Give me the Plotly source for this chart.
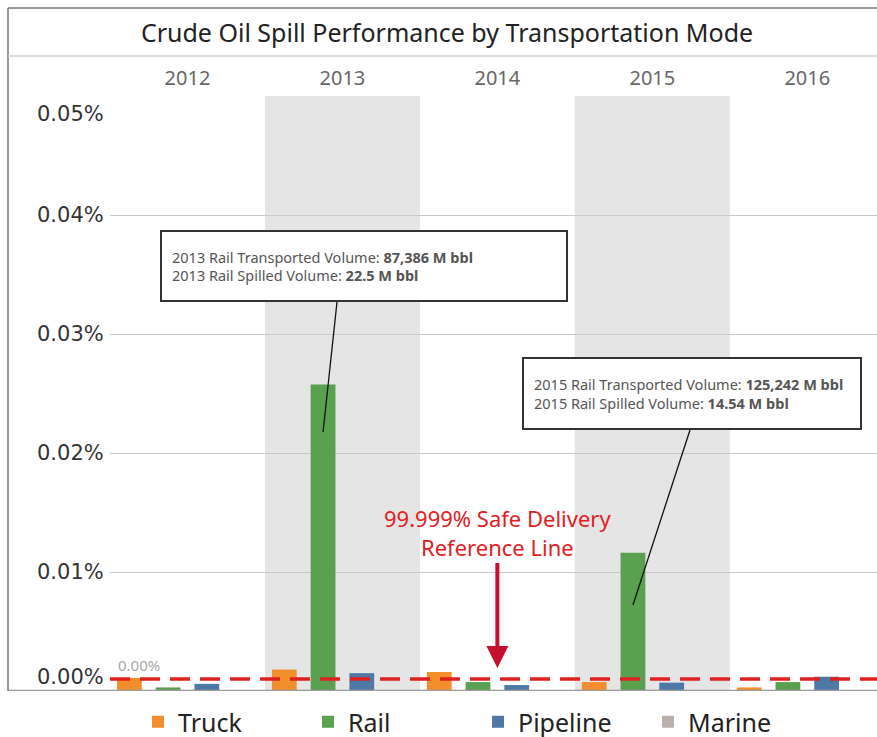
import plotly.graph_objects as go

# ---------------- data ----------------
years = ["2012", "2013", "2014", "2015", "2016"]
modes = ["Truck", "Rail", "Pipeline", "Marine"]
truck = [0.0011, 0.0018, 0.0016, 0.00075, 0.0003]        # % of volume spilled
rail = [0.0003, 0.02575, 0.00075, 0.01161, 0.00075]
pipeline = [0.0006, 0.0015, 0.0005, 0.0007, 0.0012]
marine = [0.0, 0.0, 0.0, 0.0, 0.0]
reference_level = 0.001                                    # 99.999% safe delivery
ytick_vals = [0.0, 0.01, 0.02, 0.03, 0.04, 0.05]
ytick_text = ["0.00%", "0.01%", "0.02%", "0.03%", "0.04%", "0.05%"]
box_2013 = "2013 Rail Transported Volume: <b>87,386 M bbl</b><br>2013 Rail Spilled Volume: <b>22.5 M bbl</b>"
box_2015 = "2015 Rail Transported Volume: <b>125,242 M bbl</b><br>2015 Rail Spilled Volume: <b>14.54 M bbl</b>"
ref_label = "99.999% Safe Delivery<br>Reference Line"
title_text = "Crude Oil Spill Performance by Transportation Mode"

series = [truck, rail, pipeline, marine]
colors = ["#f28e2b", "#59a14f", "#4e79a7", "#bab0ac"]

W, H = 877, 737
ML, MR, MT, MB = 110, 0, 96, 46
PW = W - ML - MR
PH = H - MT - MB
NCAT = 4.95
Y_TOP = 0.05

fig = go.Figure()
for name, vals, col in zip(modes, series, colors):
    fig.add_bar(x=years, y=vals, name=name, marker_color=col,
                marker_line_width=0)

# helpers: pixel -> axis coordinates (used for decorations only)
slot = 1.0 / len(modes)
def slot_x(year_idx, mode_idx):
    return year_idx - 0.5 + slot * (mode_idx + 0.5)

def px_to_x(px):
    return (px - ML) / (PW / NCAT) - 0.5

def py_to_y(py):
    return (H - MB - py) / PH * Y_TOP

def px_to_paper(px):
    return (px - ML) / PW

def py_to_paper(py):
    return (H - MB - py) / PH

shapes = []
# alternating column shading
for i in range(len(years)):
    if i % 2 == 1:
        shapes.append(dict(type="rect", xref="x", yref="paper",
                           x0=i - 0.5, x1=i + 0.5, y0=0, y1=1,
                           fillcolor="#e5e5e5", line_width=0, layer="below"))

# reference line (dashed red)
shapes.append(dict(type="line", xref="paper", yref="y", x0=0, x1=1,
                   y0=reference_level, y1=reference_level,
                   line=dict(color="#e0201f", width=3.5, dash="20px,10px"),
                   layer="above"))

# bottom axis line and frame
left_frame = px_to_paper(8)
shapes.append(dict(type="line", xref="paper", yref="y", x0=left_frame, x1=1,
                   y0=0, y1=0, line=dict(color="#9a9a9a", width=2.5), layer="above"))
top_frame = py_to_paper(8)
shapes.append(dict(type="line", xref="paper", yref="paper", x0=left_frame, x1=left_frame,
                   y0=0, y1=top_frame, line=dict(color="#777777", width=1.5)))
shapes.append(dict(type="line", xref="paper", yref="paper", x0=left_frame, x1=1,
                   y0=top_frame, y1=top_frame, line=dict(color="#777777", width=1.5)))
sep = py_to_paper(56)
shapes.append(dict(type="line", xref="paper", yref="paper", x0=left_frame, x1=1,
                   y0=sep, y1=sep, line=dict(color="#d0d0d0", width=1.5)))

# connector lines from callout boxes to rail bars
shapes.append(dict(type="line", xref="x", yref="y",
                   x0=px_to_x(337), y0=py_to_y(302),
                   x1=slot_x(1, 1), y1=py_to_y(432),
                   line=dict(color="#111111", width=1.3)))
shapes.append(dict(type="line", xref="x", yref="y",
                   x0=px_to_x(690), y0=py_to_y(430),
                   x1=slot_x(3, 1), y1=py_to_y(605),
                   line=dict(color="#111111", width=1.3)))

annotations = []
# y tick labels
for v, t in zip(ytick_vals, ytick_text):
    if v == ytick_vals[-1]:
        ya, ys = "top", -4
    elif v == ytick_vals[0]:
        ya, ys = "bottom", 0
    else:
        ya, ys = "middle", 0
    annotations.append(dict(xref="paper", yref="y", x=0, y=v, text=t,
                            xanchor="right", yanchor=ya, yshift=ys, xshift=-4,
                            showarrow=False,
                            font=dict(family="DejaVu Sans", size=21, color="#333333")))

# mark label on 2012 truck
annotations.append(dict(xref="x", yref="y", x=slot_x(0, 0), y=truck[0], text="0.00%",
                        xanchor="center", yanchor="bottom", xshift=10, yshift=1,
                        showarrow=False,
                        font=dict(family="Noto Sans", size=15, color="#a8a8a8")))

# callout boxes
box_font = dict(family="Noto Sans", size=14.5, color="#555555")
annotations.append(dict(xref="x", yref="y", x=px_to_x(364), y=py_to_y(266),
                        text=box_2013, showarrow=False, align="left",
                        width=384, height=48, borderpad=10, borderwidth=2,
                        bordercolor="#333333", bgcolor="white", font=box_font))
annotations.append(dict(xref="x", yref="y", x=px_to_x(692), y=py_to_y(393.5),
                        text=box_2015, showarrow=False, align="left",
                        width=316, height=49, borderpad=10, borderwidth=2,
                        bordercolor="#333333", bgcolor="white", font=box_font))

# reference-line label with arrow
annotations.append(dict(xref="x", yref="y", x=2, y=py_to_y(668),
                        text=ref_label, showarrow=True, ax=0, ay=-136,
                        arrowhead=2, arrowsize=1.1, arrowwidth=4, arrowcolor="#c8102e",
                        standoff=0,
                        font=dict(family="Noto Sans", size=22, color="#e0201f")))

fig.update_layout(
    width=W, height=H,
    margin=dict(l=ML, r=MR, t=MT, b=MB, autoexpand=False),
    paper_bgcolor="white", plot_bgcolor="white",
    barmode="group", bargap=0, bargroupgap=0.36,
    title=dict(text=title_text, xref="container", yref="container",
               x=447 / W, xanchor="center", y=1 - 33 / H, yanchor="middle",
               font=dict(family="Noto Sans", size=25, color="#222222")),
    xaxis=dict(type="category", side="top", range=[-0.5, NCAT - 0.5],
               showgrid=False, zeroline=False, showline=False, ticks="",
               ticklabelstandoff=6,
               tickfont=dict(family="Noto Sans", size=20, color="#666666")),
    yaxis=dict(range=[0, Y_TOP], tickvals=ytick_vals[1:-1], showticklabels=False,
               showgrid=True, gridcolor="#c8c8c8", gridwidth=1,
               zeroline=False, showline=False, ticks=""),
    legend=dict(orientation="h", x=px_to_paper(138), xanchor="left",
                y=py_to_paper(722), yanchor="middle",
                entrywidth=125, font=dict(family="Noto Sans", size=25, color="#222222"),
                bgcolor="rgba(0,0,0,0)"),
    shapes=shapes, annotations=annotations,
)

fig.write_html("out.html", config={"displayModeBar": False},
               post_script="document.body.style.margin='0';document.body.style.overflow='hidden';")
